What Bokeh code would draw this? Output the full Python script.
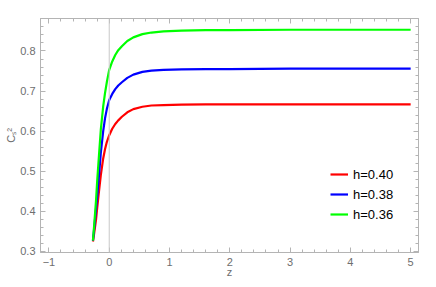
from bokeh.plotting import figure
from bokeh.models import (Range1d, LinearAxis, SingleIntervalTicker, Span, Legend, LegendItem,
                          CustomJSTickFormatter)
from bokeh.embed import file_html
from bokeh.resources import INLINE

z = [-0.27, -0.25, -0.22, -0.2, -0.17, -0.14, -0.1, -0.07, -0.04, 0.0, 0.05, 0.1, 0.15,
     0.21, 0.3, 0.4, 0.55, 0.7, 0.9, 1.2, 1.6, 2.0, 3.0, 4.0, 5.0]
cs2_h040 = [0.325, 0.345, 0.378, 0.408, 0.45, 0.49, 0.532, 0.555, 0.573, 0.590, 0.606, 0.618, 0.627,
            0.636, 0.647, 0.655, 0.661, 0.664, 0.665, 0.666, 0.667, 0.667, 0.667, 0.667, 0.667]
cs2_h038 = [0.327, 0.357, 0.405, 0.437, 0.49, 0.545, 0.600, 0.632, 0.655, 0.678, 0.693, 0.705, 0.714,
            0.722, 0.733, 0.741, 0.748, 0.751, 0.753, 0.754, 0.755, 0.755, 0.756, 0.756, 0.756]
cs2_h036 = [0.327, 0.365, 0.425, 0.475, 0.54, 0.603, 0.662, 0.695, 0.722, 0.753, 0.774, 0.790, 0.802,
            0.812, 0.825, 0.834, 0.842, 0.846, 0.849, 0.851, 0.852, 0.852, 0.853, 0.853, 0.853]
labels = ["h=0.40", "h=0.38", "h=0.36"]
colors = ["#ff0000", "#0000ff", "#00ff00"]
x_title = "z"
y_title = "Cₛ²"

FRAME = "#b4b4b4"
TICKC = "#6e6e6e"
FONT = "Liberation Sans"
X0, X1 = -1.14, 5.13
Y0, Y1 = 0.2975, 0.881

p = figure(width=436, height=287, output_backend="svg", toolbar_location=None,
           x_range=Range1d(X0, X1), y_range=Range1d(Y0, Y1),
           min_border_left=40, min_border_right=18, min_border_top=18, min_border_bottom=35,
           x_axis_location=None, y_axis_location=None)
p.grid.visible = False
p.outline_line_color = FRAME
p.background_fill_color = "white"
p.border_fill_color = "white"

p.add_layout(Span(location=0, dimension="height", line_color="#c8c8c8", line_width=1))

def style(ax, show_labels):
    ax.axis_line_color = FRAME
    ax.major_tick_line_color = FRAME
    ax.minor_tick_line_color = FRAME
    ax.major_tick_in = 5
    ax.major_tick_out = 0
    ax.minor_tick_in = 3
    ax.minor_tick_out = 0
    ax.major_label_text_font = FONT
    ax.major_label_text_color = TICKC
    ax.major_label_text_font_size = "11px"
    ax.axis_label_text_font = FONT
    ax.axis_label_text_font_style = "normal"
    ax.axis_label_text_font_size = "11px"
    ax.axis_label_text_color = TICKC
    if not show_labels:
        ax.formatter = CustomJSTickFormatter(code="return ''")
        ax.major_label_standoff = 0

xt = SingleIntervalTicker(interval=1, num_minor_ticks=5)
yt = SingleIntervalTicker(interval=0.1, num_minor_ticks=5)

xb = LinearAxis(ticker=xt, axis_label=x_title)
style(xb, True)
xb.major_label_standoff = 5
xb.axis_label_standoff = -3
p.add_layout(xb, "below")

yl = LinearAxis(ticker=yt, axis_label=y_title)
style(yl, True)
yl.major_label_standoff = 5
yl.axis_label_standoff = 0
p.add_layout(yl, "left")

xa = LinearAxis(ticker=xt)
style(xa, False)
p.add_layout(xa, "above")
yr = LinearAxis(ticker=yt)
style(yr, False)
p.add_layout(yr, "right")

items = []
for vals, lab, col in zip([cs2_h040, cs2_h038, cs2_h036], labels, colors):
    r = p.line(z, vals, line_color=col, line_width=2.2, line_join="round")
    items.append(LegendItem(label=lab, renderers=[r]))

leg = Legend(items=items, location=(290, 28), padding=0, margin=0, spacing=0,
             glyph_width=18, glyph_height=20, label_height=20, label_standoff=5,
             label_text_font=FONT, label_text_font_size="13px", label_text_color="#000000",
             border_line_color=None, background_fill_alpha=0)
p.add_layout(leg)

open("out.html", "w").write(file_html(p, INLINE))
